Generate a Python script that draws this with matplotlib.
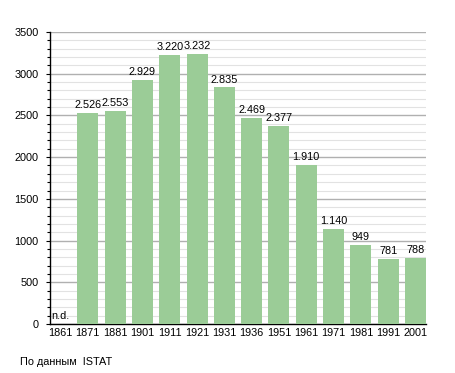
import matplotlib
matplotlib.use("Agg")
import matplotlib.pyplot as plt
from matplotlib.ticker import MultipleLocator

years = ["1861", "1871", "1881", "1901", "1911", "1921", "1931", "1936",
         "1951", "1961", "1971", "1981", "1991", "2001"]
population = [None, 2526, 2553, 2929, 3220, 3232, 2835, 2469,
              2377, 1910, 1140, 949, 781, 788]
labels = ["n.d.", "2.526", "2.553", "2.929", "3.220", "3.232", "2.835", "2.469",
          "2.377", "1.910", "1.140", "949", "781", "788"]
source_text = "По данным  ISTAT"

plt.rcParams['font.family'] = ['Liberation Sans', 'DejaVu Sans']

fig = plt.figure(figsize=(4.55, 3.73), dpi=100)
ax = fig.add_axes([50/455, 49/373, 376/455, 292/373])

w = 0.77
for i, (v, lab) in enumerate(zip(population, labels)):
    x = i + w / 2
    if v is None:
        ax.text(i + 0.05, 40, lab, ha='left', va='bottom', fontsize=7.8, color='black')
        continue
    ax.bar(x, v, width=w, color='#9bcc97', zorder=3)
    ax.text(x, v + 35, lab, ha='center', va='bottom', fontsize=7.8, color='black', zorder=4)

ax.set_xlim(0, 13 + w)
ax.set_ylim(0, 3500)
ax.set_xticks([i + w / 2 for i in range(len(years))])
ax.set_xticklabels(years, fontsize=7.8)
ax.tick_params(axis='x', length=0, pad=3)
ax.yaxis.set_major_locator(MultipleLocator(500))
ax.yaxis.set_minor_locator(MultipleLocator(100))
ax.tick_params(axis='y', which='major', length=3.2, width=0.8, labelsize=7.8, pad=5)
ax.tick_params(axis='y', which='minor', length=2, width=0.8)
ax.grid(axis='y', which='major', color='#b0b0b0', linewidth=1.0, zorder=0)
ax.grid(axis='y', which='minor', color='#e2e2e2', linewidth=0.8, zorder=0)
ax.grid(axis='x', visible=False)
for s in ['top', 'right']:
    ax.spines[s].set_visible(False)
ax.spines['left'].set_linewidth(1.0)
ax.spines['bottom'].set_linewidth(1.0)
ax.set_axisbelow(True)

fig.text(20/455, 1 - 362/373, source_text, fontsize=7.8, ha='left', va='center')

fig.savefig("out.png", dpi=100)
